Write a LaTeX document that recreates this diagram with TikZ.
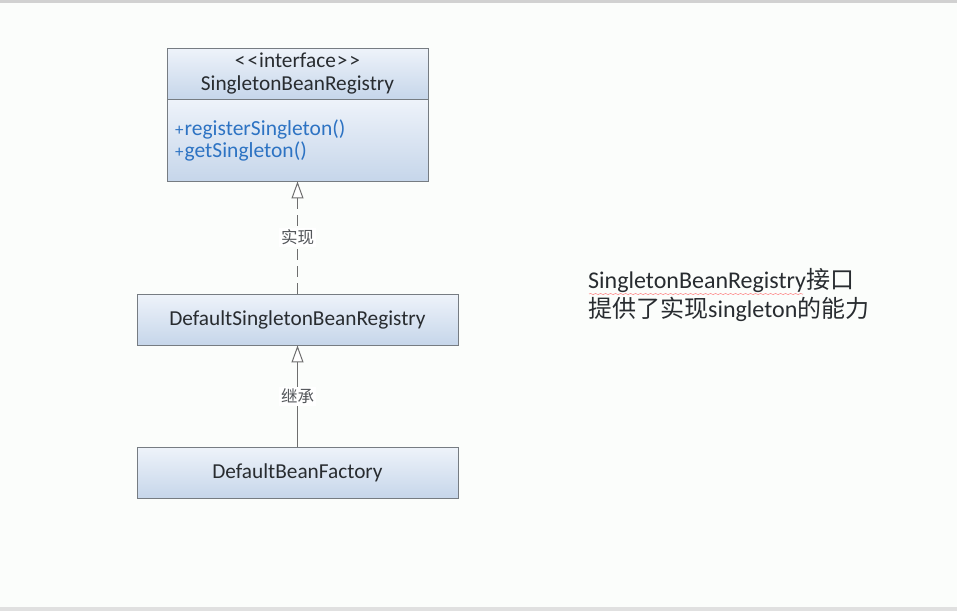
\documentclass[tikz,border=0pt]{standalone}
\usepackage{fontspec}
\setmainfont{Carlito}
\newfontfamily\cjk{Noto Sans CJK SC}
\usetikzlibrary{arrows.meta,decorations.pathmorphing}
\definecolor{bordergray}{RGB}{118,124,130}
\definecolor{boxtop}{RGB}{238,243,250}
\definecolor{boxbot}{RGB}{198,214,234}
\definecolor{txt}{RGB}{40,44,48}
\definecolor{meth}{RGB}{45,115,195}
\definecolor{linegray}{RGB}{110,110,110}
\definecolor{bg}{RGB}{251,253,251}
\begin{document}
\begin{tikzpicture}[x=1pt,y=-1pt,
  cls/.style={draw=bordergray, line width=0.9pt, top color=boxtop, bottom color=boxbot,
    rectangle, inner sep=0pt, text=txt, font=\fontsize{21.3}{23}\selectfont},
  rel/.style={draw=linegray, line width=1pt, -{Triangle[length=17pt,width=12pt,fill=white]}},
  rellabel/.style={fill=white, inner sep=2pt, text=txt!80, font=\cjk\fontsize{16.5}{18}\selectfont},
  note/.style={align=left, anchor=west, inner sep=0pt, text=txt, font=\fontsize{24}{29}\selectfont}
]
\useasboundingbox (0,0) rectangle (957,611);
\fill[bg] (0,0) rectangle (957,611);
\fill[black!18] (0,0) rectangle (957,3);
\fill[black!12] (0,607) rectangle (957,611);

% interface
\node[cls, minimum width=261pt, minimum height=51pt, align=center] (ifhead) at (297.5,73.5)
  {{<}\kern2pt{<}\kern1pt interface\kern1pt{>}\kern2pt{>}\\SingletonBeanRegistry};
\node[cls, minimum width=261pt, minimum height=82pt] (ifbody) at (297.5,140) {};
\node[anchor=west, align=left, inner sep=0pt, text=meth, font=\fontsize{21.5}{22}\selectfont] (meths) at (175,140)
  {{\fontsize{17}{17}\selectfont+}\kern1pt registerSingleton()\\{\fontsize{17}{17}\selectfont+}\kern1pt getSingleton()};

\node[cls, minimum width=321pt, minimum height=51pt] (reg) at (297.5,319.5) {DefaultSingletonBeanRegistry};
\node[cls, minimum width=321pt, minimum height=51pt] (fac) at (297.5,472.5) {DefaultBeanFactory};

\draw[rel, dash pattern=on 11pt off 6pt] (reg.north) -- node[rellabel] {实现} (ifbody.south);
\draw[rel] (fac.north) -- node[rellabel] {继承} (reg.south);

\node[note] (desc) at (588,295) {SingletonBeanRegistry{\cjk 接口}\\{\cjk 提供了实现}singleton{\cjk 的能力}};
\coordinate (ul1) at (589,294);
\coordinate (ul2) at (803,294);
\draw[red!55, line width=0.5pt, decorate, decoration={snake, amplitude=0.5pt, segment length=5pt}] (ul1) -- (ul2);
\end{tikzpicture}
\end{document}
